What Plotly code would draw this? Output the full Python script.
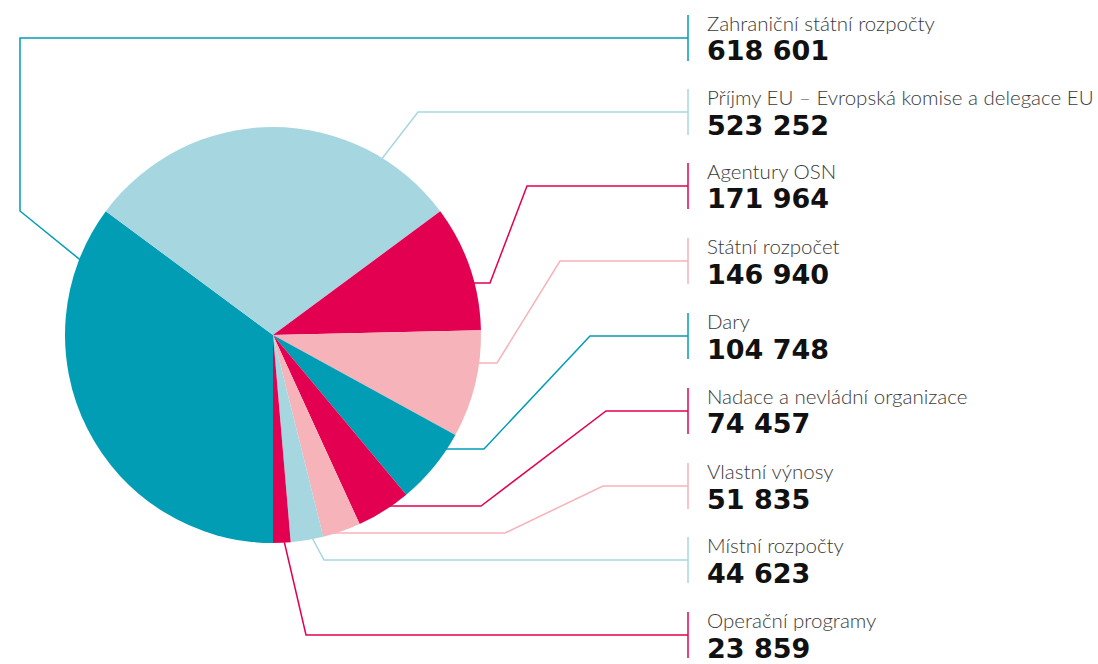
import plotly.graph_objects as go

# Funding sources and amounts
categories = [
    "Zahraniční státní rozpočty",
    "Příjmy EU – Evropská komise a delegace EU",
    "Agentury OSN",
    "Státní rozpočet",
    "Dary",
    "Nadace a nevládní organizace",
    "Vlastní výnosy",
    "Místní rozpočty",
    "Operační programy",
]
values = [618601, 523252, 171964, 146940, 104748, 74457, 51835, 44623, 23859]

TEAL = "#009db5"
LIGHT = "#a6d7e1"
RED = "#e30051"
PINK = "#f6b3b9"
colors = [TEAL, LIGHT, RED, PINK, TEAL, RED, PINK, LIGHT, RED]

W, H = 1098, 664
CX, CY, R = 273, 335, 208  # pie centre and radius in pixels


def px(x):
    return x / W


def py(y):
    return 1 - y / H


def fmt(v):
    return f"{v:,}".replace(",", " ")


# Leader-line routes (pixels), from inside the pie out to the label bar
label_x = 688
label_ys = [38, 112, 186, 261, 336, 411, 486, 560, 635]
routes = [
    [(110, 284), (20, 211), (20, 38)],
    [(350, 200), (418, 112)],
    [(440, 283), (490, 283), (527, 186)],
    [(440, 363), (497, 363), (560, 261)],
    [(420, 449), (484, 449), (590, 336)],
    [(370, 506), (481, 506), (606, 411)],
    [(320, 533), (505, 533), (603, 486)],
    [(300, 515), (324, 560)],
    [(278, 515), (306, 635)],
]

fig = go.Figure()
fig.add_trace(go.Pie(
    labels=categories,
    values=values,
    sort=False,
    direction="clockwise",
    rotation=180,
    marker=dict(colors=colors, line=dict(width=0)),
    textinfo="none",
    hoverinfo="label+value",
    showlegend=False,
    domain=dict(x=[px(CX - R), px(CX + R)], y=[py(CY + R), py(CY - R)]),
))

shapes = []
annotations = []
for name, val, col, ly, route in zip(categories, values, colors, label_ys, routes):
    pts = route + [(label_x, ly)]
    path = "M " + " L ".join(f"{px(x):.5f},{py(y):.5f}" for x, y in pts)
    shapes.append(dict(type="path", path=path, xref="paper", yref="paper",
                       line=dict(color=col, width=1.5), layer="below"))
    shapes.append(dict(type="line", xref="paper", yref="paper",
                       x0=px(label_x), x1=px(label_x), y0=py(ly - 23), y1=py(ly + 23),
                       line=dict(color=col, width=1.5), layer="below"))
    annotations.append(dict(
        x=px(label_x + 17), y=py(ly - 15), xref="paper", yref="paper",
        xanchor="left", yanchor="middle", showarrow=False,
        text=name, font=dict(family="Lato", size=20.5, color="#3a3a3a", weight=300),
    ))
    annotations.append(dict(
        x=px(label_x + 17), y=py(ly + 13), xref="paper", yref="paper",
        xanchor="left", yanchor="middle", showarrow=False,
        text=fmt(val), font=dict(family="DejaVu Sans", size=27, color="#111111", weight=700),
    ))

fig.update_layout(
    width=W, height=H,
    margin=dict(l=0, r=0, t=0, b=0),
    paper_bgcolor="white",
    plot_bgcolor="white",
    shapes=shapes,
    annotations=annotations,
)

fig.write_html("out.html")
